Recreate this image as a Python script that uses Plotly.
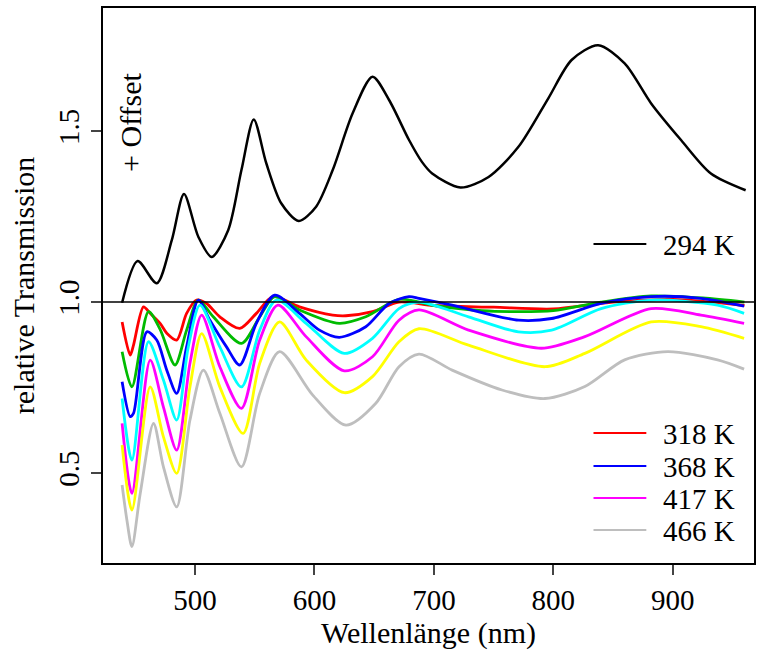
import plotly.graph_objects as go

# ---- data ----
wl_294 = [439, 452, 468, 480.6, 490.8, 502.8, 514, 527.8, 538.9, 549.2, 559.7, 572.2, 586.9,
          601.4, 615.3, 632, 648.6, 662.5, 679.2, 690, 698.6, 722.2, 745.8, 770.8, 795.8,
          815.3, 837.5, 859.7, 881.9, 906.9, 931.9, 961]
t_294 = [0.998, 1.12, 1.055, 1.181, 1.316, 1.191, 1.132, 1.21, 1.386, 1.534, 1.406, 1.289, 1.237,
         1.279, 1.386, 1.552, 1.659, 1.591, 1.474, 1.41, 1.376, 1.335, 1.366, 1.454, 1.596,
         1.708, 1.751, 1.698, 1.581, 1.474, 1.376, 1.327]

wl_318 = [439, 445.8, 448.6, 456.9, 462.5, 470.8, 476.4, 484.7, 493, 501.4, 509.7, 520.8, 537.5,
          551.4, 565.3, 587.5, 615.3, 626.4, 648.6, 670.8, 700, 750, 800, 850, 900, 960]
t_318 = [0.942, 0.845, 0.875, 0.986, 0.967, 0.938, 0.909, 0.889, 0.967, 1.006, 0.996, 0.957, 0.923,
         0.967, 1.016, 0.986, 0.962, 0.96, 0.972, 1.0, 0.99, 0.985, 0.98, 1.0, 1.008, 0.99]

wl_343 = [439, 447.2, 461.1, 470.8, 483.3, 493, 502.8, 515.3, 538.9, 554.2, 566.7, 587.5, 620.8,
          643, 670.8, 700, 740, 771, 800, 840, 882, 925, 960]
t_343 = [0.855, 0.752, 0.972, 0.92, 0.816, 0.918, 1.006, 0.957, 0.879, 0.957, 1.016, 0.977, 0.938,
         0.957, 1.008, 0.99, 0.975, 0.972, 0.975, 1.0, 1.018, 1.012, 1.0]

wl_368 = [439, 445.8, 448.6, 459.7, 468, 476.4, 484.7, 493, 502.8, 512.5, 526.4, 537.5, 551.4,
          566.7, 587.5, 604.2, 620.8, 643, 662.5, 679.2, 687.5, 715.3, 770.8, 798.6, 840, 881.9,
          923.6, 959.7]
t_368 = [0.767, 0.665, 0.675, 0.913, 0.889, 0.801, 0.733, 0.869, 1.006, 0.947, 0.869, 0.816, 0.938,
         1.02, 0.967, 0.918, 0.897, 0.928, 0.996, 1.016, 1.011, 0.991, 0.947, 0.952, 0.996, 1.016,
         1.011, 0.988]

wl_392 = [439, 447.2, 461.1, 473.6, 484.7, 494.4, 504.2, 520.8, 538.9, 554.2, 568.1, 593, 625,
          648.6, 670.8, 687.5, 729, 770.8, 798.6, 840, 881.9, 937.5, 959.7]
t_392 = [0.718, 0.538, 0.884, 0.772, 0.655, 0.869, 0.991, 0.869, 0.752, 0.918, 1.006, 0.938, 0.85,
         0.894, 0.981, 1.0, 0.957, 0.913, 0.918, 0.981, 1.006, 0.991, 0.967]

wl_417 = [439, 447.2, 462.5, 473.6, 484.7, 495.8, 505.6, 520.8, 538.9, 554.2, 569.4, 593, 625,
          648.6, 670.8, 687.5, 729, 790, 826.4, 881.9, 923.6, 959.7]
t_417 = [0.645, 0.441, 0.83, 0.693, 0.567, 0.821, 0.962, 0.811, 0.689, 0.889, 0.991, 0.899, 0.799,
         0.84, 0.947, 0.977, 0.918, 0.865, 0.899, 0.981, 0.962, 0.938]

wl_441 = [439, 447.2, 462.5, 473.6, 484.7, 495.8, 505.6, 520.8, 540.3, 554.2, 570.8, 593, 625,
          648.6, 670.8, 687.5, 729, 793, 826.4, 881.9, 923.6, 959.7]
t_441 = [0.582, 0.392, 0.752, 0.606, 0.499, 0.752, 0.908, 0.752, 0.616, 0.821, 0.942, 0.831, 0.735,
         0.782, 0.884, 0.922, 0.874, 0.811, 0.85, 0.942, 0.928, 0.894]

wl_466 = [439, 443, 447.2, 454.2, 465.3, 473.6, 484.7, 495.8, 507, 520.8, 538.9, 554.2, 570.8,
          598.6, 626.4, 651.4, 670.8, 687.5, 715.3, 757, 793, 826.4, 859.7, 895.8, 937.5, 959.7]
t_466 = [0.465, 0.363, 0.285, 0.441, 0.645, 0.518, 0.401, 0.655, 0.801, 0.675, 0.518, 0.733, 0.855,
         0.728, 0.64, 0.704, 0.811, 0.848, 0.801, 0.743, 0.718, 0.753, 0.831, 0.855, 0.831, 0.804]

series = [
    ("318 K", wl_318, t_318, "#ff0000", True),
    ("343 K", wl_343, t_343, "#00bb00", False),
    ("368 K", wl_368, t_368, "#0000ff", True),
    ("392 K", wl_392, t_392, "#00ffff", False),
    ("417 K", wl_417, t_417, "#ff00ff", True),
    ("441 K", wl_441, t_441, "#ffff00", False),
    ("466 K", wl_466, t_466, "#bebebe", True),
]

x_ticks = [500, 600, 700, 800, 900]
y_ticks = [0.5, 1.0, 1.5]

FONT = "Liberation Serif"
W, H = 757, 650
ML, MR, MT, MB = 103, 1, 8, 87
PW, PH = W - ML - MR, H - MT - MB


def px_x(p):
    return (p - ML) / PW


def px_y(p):
    return (H - MB - p) / PH


fig = go.Figure()

fig.add_hline(y=1.0, line=dict(color="black", width=1.5))

fig.add_trace(go.Scatter(x=wl_294, y=t_294, mode="lines", name="294 K", showlegend=False,
                         line=dict(color="black", width=2.5, shape="spline", smoothing=0.8)))

for name, wl, t, col, show in series:
    fig.add_trace(go.Scatter(x=wl, y=t, mode="lines", name=name, showlegend=False,
                             line=dict(color=col, width=2.8, shape="spline", smoothing=0.8)))

# legend keys (drawn in paper space)
legend_items = [("294 K", "black", 244)]
legend_rows = [433, 466, 498, 530]
legend_items += [(n, c, legend_rows[i]) for i, (n, c) in
                 enumerate([(s[0], s[3]) for s in series if s[4]])]
for name, col, row in legend_items:
    fig.add_shape(type="line", xref="paper", yref="paper",
                  x0=px_x(595), x1=px_x(648), y0=px_y(row), y1=px_y(row),
                  line=dict(color=col, width=2))
    fig.add_annotation(text=name, xref="paper", yref="paper", x=px_x(663), y=px_y(row + 1),
                       xanchor="left", yanchor="middle", showarrow=False,
                       font=dict(size=29))

fig.update_layout(
    width=W, height=H,
    margin=dict(l=ML, r=MR, t=MT, b=MB),
    plot_bgcolor="white", paper_bgcolor="white",
    font=dict(family=FONT, size=29, color="black"),
    showlegend=False,
    xaxis=dict(range=[423, 968], tickvals=x_ticks, ticks="outside", ticklen=10, tickwidth=2,
               showline=True, linewidth=2, linecolor="black", mirror=True, showgrid=False,
               zeroline=False, title=dict(text="Wellenlänge (nm)", standoff=4,
                                          font=dict(size=30)),
               tickfont=dict(size=29)),
    yaxis=dict(range=[0.237, 1.86], tickvals=y_ticks, tickformat=".1f", ticks="outside",
               ticklen=10, tickwidth=2, tickangle=-90,
               showline=True, linewidth=2, linecolor="black", mirror=True, showgrid=False,
               zeroline=False, title=dict(text="relative Transmission", standoff=10,
                                          font=dict(size=30)),
               tickfont=dict(size=29)),
)

fig.add_annotation(text="+ Offset", x=px_x(130), y=px_y(122), xref="paper", yref="paper",
                   xanchor="center", yanchor="middle",
                   textangle=-90, showarrow=False, font=dict(size=30))

fig.write_html("out.html")
